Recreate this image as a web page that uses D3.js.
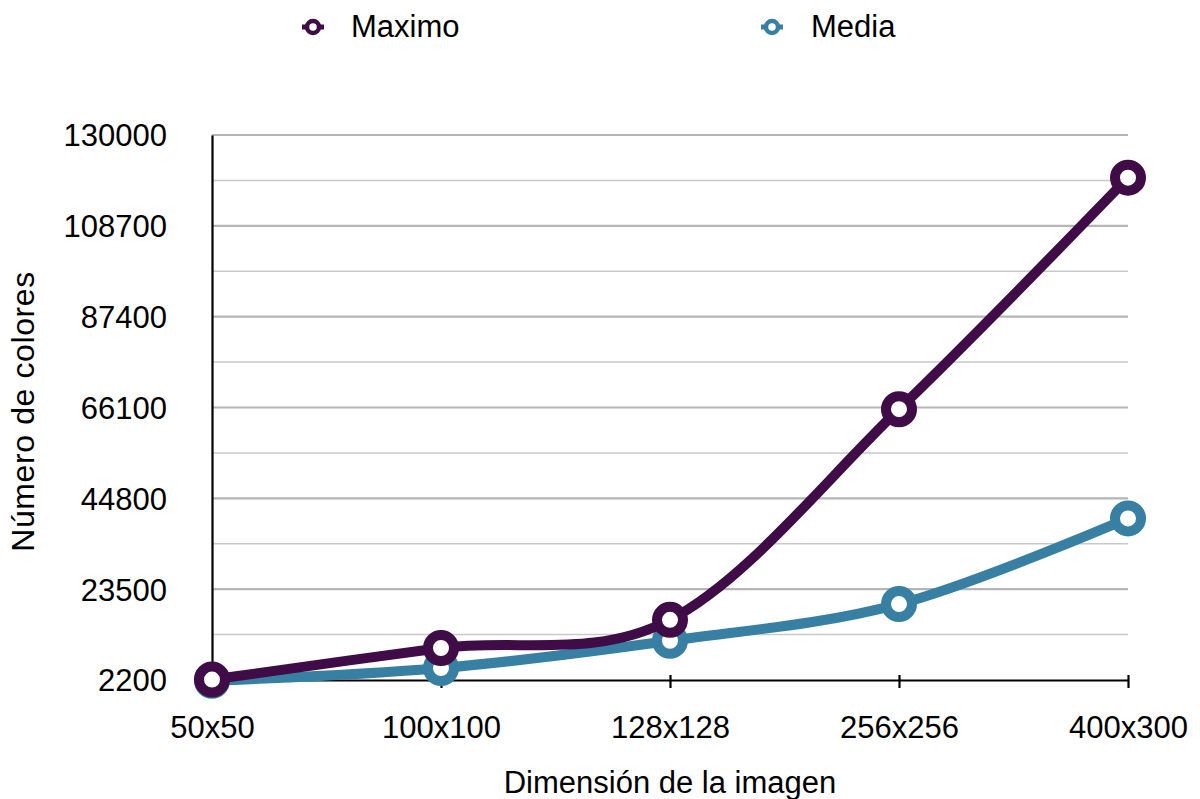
<!DOCTYPE html>
<html>
<head>
<meta charset="utf-8">
<script src="https://cdn.jsdelivr.net/npm/d3@7"></script>
<style>
  html, body { margin: 0; padding: 0; background: #fff; }
  svg text { font-family: "Liberation Sans", Helvetica, Arial, sans-serif; fill: #000; }
</style>
</head>
<body>
<svg id="chart" width="1200" height="799"></svg>
<script>
// Image sizes on the x axis
const categories = ["50x50", "100x100", "128x128", "256x256", "400x300"];
// Number of colours per image size
const maximo = [2300, 9700, 16300, 65700, 120000];
const media = [2000, 5000, 11400, 20000, 40100];
// Labelled ticks on the y axis
const yTicks = [2200, 23500, 44800, 66100, 87400, 108700, 130000];
const seriesNames = ["Maximo", "Media"];
const seriesColors = ["#3f0c47", "#3880a3"];

const svg = d3.select("#chart");
const margin = { left: 212, right: 72, top: 135, bottom: 119 };
const W = 1200, H = 799;

const x = d3.scalePoint().domain(categories).range([margin.left, W - margin.right]);
const y = d3.scaleLinear().domain([2200, 130000]).range([H - margin.bottom, margin.top]);

const fontSize = 31;

// minor gridlines halfway between labelled ticks
const minorTicks = d3.pairs(yTicks).map(([a, b]) => (a + b) / 2);
svg.append("g").selectAll("line").data(minorTicks).join("line")
  .attr("x1", margin.left).attr("x2", W - margin.right)
  .attr("y1", d => y(d)).attr("y2", d => y(d))
  .attr("stroke", "#c9c9c9").attr("stroke-width", 1.5);

// major gridlines
svg.append("g").selectAll("line").data(yTicks.slice(1)).join("line")
  .attr("x1", margin.left).attr("x2", W - margin.right)
  .attr("y1", d => y(d)).attr("y2", d => y(d))
  .attr("stroke", "#b5b5b5").attr("stroke-width", 2.2);

// y axis
const yAxis = svg.append("g")
  .attr("transform", `translate(${margin.left},0)`)
  .call(d3.axisLeft(y).tickValues(yTicks).tickSize(0).tickPadding(45).tickFormat(d3.format("d")));
yAxis.select(".domain").attr("stroke", "#000").attr("stroke-width", 2.2);
yAxis.selectAll("text").attr("font-size", fontSize).attr("dy", "0.35em")
  .style("font-family", "'Liberation Sans', Helvetica, Arial, sans-serif");

// x axis
const xAxis = svg.append("g")
  .attr("transform", `translate(0,${y(2200)})`)
  .call(d3.axisBottom(x).tickSize(8).tickPadding(28).tickSizeOuter(0));
xAxis.select(".domain").attr("stroke", "#000").attr("stroke-width", 2.2);
xAxis.selectAll(".tick line").attr("stroke", "#000").attr("stroke-width", 2.2).attr("y1", -5);
xAxis.selectAll("text").attr("font-size", fontSize)
  .style("font-family", "'Liberation Sans', Helvetica, Arial, sans-serif");

// axis titles
svg.append("text")
  .attr("x", (margin.left + W - margin.right) / 2).attr("y", 793)
  .attr("text-anchor", "middle").attr("font-size", fontSize)
  .text("Dimensión de la imagen");
svg.append("text")
  .attr("transform", `translate(34,${(margin.top + H - margin.bottom) / 2 + 4}) rotate(-90)`)
  .attr("text-anchor", "middle").attr("font-size", 32)
  .attr("letter-spacing", 0.6)
  .text("Número de colores");

// series, drawn so that Maximo sits on top
const line = d3.line()
  .x((d, i) => x(categories[i]))
  .y(d => y(d))
  .curve(d3.curveCardinal.tension(0));

const series = [
  { name: seriesNames[1], values: media, color: seriesColors[1] },
  { name: seriesNames[0], values: maximo, color: seriesColors[0] }
];

series.forEach(s => {
  const g = svg.append("g");
  g.append("path").datum(s.values)
    .attr("d", line)
    .attr("fill", "none").attr("stroke", s.color)
    .attr("stroke-width", 10).attr("stroke-linejoin", "round");
  g.selectAll("circle").data(s.values).join("circle")
    .attr("cx", (d, i) => x(categories[i]))
    .attr("cy", d => y(d))
    .attr("r", 13)
    .attr("fill", "#fff").attr("stroke", s.color).attr("stroke-width", 10);
});

// legend
const legendX = [313, 772];
const legend = svg.append("g").selectAll("g").data(seriesNames).join("g")
  .attr("transform", (d, i) => `translate(${legendX[i]},27)`);
legend.append("line")
  .attr("x1", -11).attr("x2", 11)
  .attr("stroke", (d, i) => seriesColors[i]).attr("stroke-width", 5);
legend.append("circle")
  .attr("r", 6).attr("fill", "#fff")
  .attr("stroke", (d, i) => seriesColors[i]).attr("stroke-width", 4.5);
legend.append("text")
  .attr("x", (d, i) => i === 0 ? 38 : 39).attr("y", 10)
  .attr("font-size", fontSize)
  .text(d => d);
</script>
</body>
</html>
